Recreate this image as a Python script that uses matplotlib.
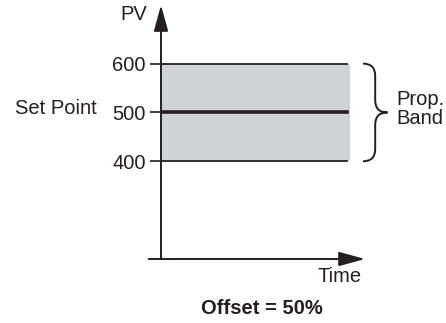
import matplotlib.pyplot as plt
from matplotlib.path import Path
from matplotlib.patches import PathPatch

plt.rcParams['font.family'] = ['Liberation Sans', 'DejaVu Sans']

# Data
pv_ticks = [400, 500, 600]
set_point = 500
band_low = 400
band_high = 600
time_end = 9.1

ink = '#231f20'
band_color = '#d1d2d4'
fs = 14.5

fig = plt.figure(figsize=(4.46, 3.23), dpi=100)
W, H = 446, 323
ax = fig.add_axes([161 / W, (H - 259) / H, 204 / W, 254 / H])
ax.set_xlim(0, 10)
ax.set_ylim(200, 720)

for s in ax.spines.values():
    s.set_visible(False)

# band
ax.fill_between([0, time_end + 0.15], band_low, band_high,
                color=band_color, lw=0, zorder=1)
ax.plot([0, time_end], [band_high, band_high], color=ink, lw=1.3, zorder=2)
ax.plot([0, time_end], [band_low, band_low], color=ink, lw=1.3, zorder=2)
ax.plot([0, time_end], [set_point, set_point], color=ink, lw=2.6, zorder=3)

# axes with arrows
ax.annotate('', xy=(0, 720), xytext=(0, 200),
            arrowprops=dict(arrowstyle='-|>,head_length=0.8,head_width=0.22',
                            mutation_scale=20, lw=1.4, color=ink,
                            shrinkA=0, shrinkB=0),
            annotation_clip=False)
ax.annotate('', xy=(10, 200), xytext=(-0.6, 200),
            arrowprops=dict(arrowstyle='-|>,head_length=0.8,head_width=0.22',
                            mutation_scale=20, lw=1.4, color=ink,
                            shrinkA=0, shrinkB=0),
            annotation_clip=False)

# ticks
ax.set_xticks([])
ax.set_yticks(pv_ticks)
ax.set_yticklabels([str(v) for v in pv_ticks])
ax.tick_params(axis='y', length=8, width=1.2, color=ink, pad=3,
               labelsize=fs, labelcolor=ink)

# curly brace
x0, x1, x2 = 9.9, 10.5, 11.1
r = 25
mid = (band_low + band_high) / 2
verts = [
    (x0, band_high), (x1, band_high), (x1, band_high - r),
    (x1, mid + r), (x1, mid), (x2, mid),
    (x1, mid), (x1, mid - r),
    (x1, band_low + r), (x1, band_low), (x0, band_low),
]
codes = [Path.MOVETO, Path.CURVE3, Path.CURVE3,
         Path.LINETO, Path.CURVE3, Path.CURVE3,
         Path.CURVE3, Path.CURVE3,
         Path.LINETO, Path.CURVE3, Path.CURVE3]
ax.add_patch(PathPatch(Path(verts, codes), fill=False, ec=ink, lw=1.4,
                       clip_on=False))

# texts
fig.text(147 / W, 1 - 15 / H, 'PV', ha='right', va='center',
         fontsize=fs, color=ink)
fig.text(97 / W, 1 - 109 / H, 'Set Point', ha='right', va='center',
         fontsize=fs, color=ink)
fig.text(396 / W, 1 - 109 / H, 'Prop.\nBand', ha='left', va='center',
         fontsize=fs, color=ink, linespacing=1.05)
fig.text(362 / W, 1 - 276 / H, 'Time', ha='right', va='center',
         fontsize=fs, color=ink)
fig.text(262 / W, 1 - 308 / H, 'Offset = 50%', ha='center', va='center',
         fontsize=fs, color=ink, fontweight='bold')

plt.savefig('out.png', dpi=100)
